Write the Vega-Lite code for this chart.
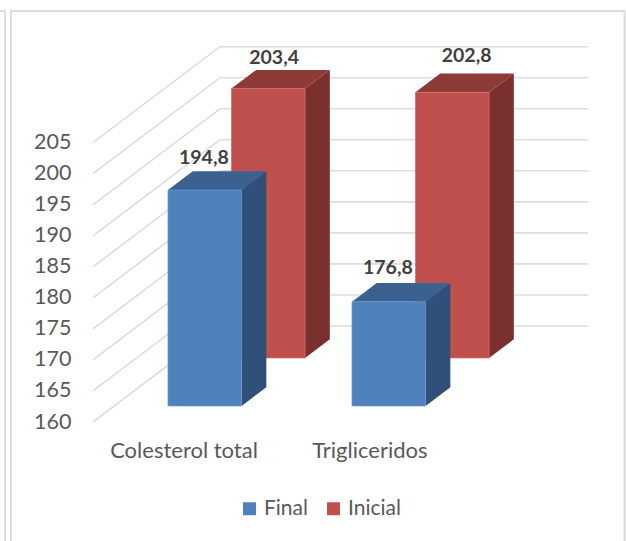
{
  "$schema": "https://vega.github.io/schema/vega-lite/v6.json",
  "width": 626,
  "height": 541,
  "padding": 0,
  "autosize": "none",
  "background": "white",
  "view": {"stroke": null},
  "config": {"text": {"font": "Lato"}},
  "data": {"values": [
    {"categoria": "Colesterol total", "serie": "Final", "valor": 194.8},
    {"categoria": "Colesterol total", "serie": "Inicial", "valor": 203.4},
    {"categoria": "Trigliceridos", "serie": "Final", "valor": 176.8},
    {"categoria": "Trigliceridos", "serie": "Inicial", "valor": 202.8}
  ]},
  "transform": [
    {"calculate": "(datum.categoria === 'Trigliceridos' ? 1 : 0) + 0.4925", "as": "centro"},
    {"calculate": "datum.centro - 0.2", "as": "u0"},
    {"calculate": "datum.centro + 0.2", "as": "u1"},
    {"calculate": "datum.serie === 'Final' ? 0.1667 : 0.6667", "as": "d0"},
    {"calculate": "datum.d0 + 0.195", "as": "d1"},
    {"calculate": "[0, 1]", "as": "lado"},
    {"calculate": "[0, 1, 2, 3]", "as": "tapa"}
  ],
  "encoding": {
    "x": {"field": "x", "type": "quantitative", "axis": null, "scale": {"domain": [-0.5054, 2.8967], "nice": false, "zero": false}},
    "y": {"field": "y", "type": "quantitative", "scale": {"domain": [140.83, 227.99], "nice": false, "zero": false},
      "axis": {"title": null, "values": [160, 165, 170, 175, 180, 185, 190, 195, 200, 205], "offset": -73, "domain": false, "ticks": false, "grid": false, "labelPadding": 2, "labelFont": "Lato", "labelFontSize": 21.5, "labelColor": "#595959"}}
  },
  "layer": [
    {
      "data": {"values": [{"a": 1}]},
      "transform": [
        {"calculate": "-0.62", "as": "x"}, {"calculate": "-0.478", "as": "x2"},
        {"calculate": "226.2", "as": "y"}, {"calculate": "130", "as": "y2"}
      ],
      "mark": {"type": "rect", "fill": null, "stroke": "#dcdcdc", "strokeWidth": 2, "clip": false},
      "encoding": {"x2": {"field": "x2"}, "y2": {"field": "y2"}}
    },
    {
      "data": {"values": [{"a": 1}]},
      "transform": [
        {"calculate": "-0.4457", "as": "x"}, {"calculate": "2.889", "as": "x2"},
        {"calculate": "226.2", "as": "y"}, {"calculate": "130", "as": "y2"}
      ],
      "mark": {"type": "rect", "fill": null, "stroke": "#dcdcdc", "strokeWidth": 2, "clip": false},
      "encoding": {"x2": {"field": "x2"}, "y2": {"field": "y2"}}
    },
    {
      "data": {"values": [
        {"marca": 160}, {"marca": 165}, {"marca": 170}, {"marca": 175}, {"marca": 180},
        {"marca": 185}, {"marca": 190}, {"marca": 195}, {"marca": 200}, {"marca": 205}
      ]},
      "transform": [
        {"calculate": "[0, 1, 2]", "as": "k"},
        {"flatten": ["k"]},
        {"calculate": "datum.k === 2 ? 2.69 : datum.k * 0.69", "as": "x"},
        {"calculate": "datum.marca + (datum.k === 0 ? 0 : 15.47)", "as": "y"}
      ],
      "mark": {"type": "line", "color": "#dddddd", "strokeWidth": 1.6},
      "encoding": {"detail": {"field": "marca"}, "order": {"field": "k"}}
    },
    {
      "transform": [
        {"filter": "datum.serie === 'Inicial'"},
        {"flatten": ["lado"]},
        {"calculate": "datum.d0 + datum.lado * 0.195", "as": "d"},
        {"calculate": "datum.u1 + 0.69 * datum.d", "as": "x"},
        {"calculate": "160 + 15.47 * datum.d", "as": "y"},
        {"calculate": "datum.valor + 15.47 * datum.d", "as": "y2"}
      ],
      "mark": {"type": "area", "fill": "#7a302e"},
      "encoding": {"y2": {"field": "y2"}, "detail": {"field": "categoria"}}
    },
    {
      "transform": [
        {"filter": "datum.serie === 'Inicial'"},
        {"flatten": ["tapa"]},
        {"calculate": "(datum.tapa < 2 ? datum.u0 : datum.u1) + 0.69 * (datum.tapa % 2 === 0 ? datum.d0 : datum.d1)", "as": "x"},
        {"calculate": "datum.valor + 15.47 * (datum.tapa === 3 ? datum.d1 : datum.d0)", "as": "y"},
        {"calculate": "datum.valor + 15.47 * (datum.tapa === 0 ? datum.d0 : datum.d1)", "as": "y2"}
      ],
      "mark": {"type": "area", "fill": "#8e3a37"},
      "encoding": {"y2": {"field": "y2"}, "detail": {"field": "categoria"}}
    },
    {
      "transform": [
        {"filter": "datum.serie === 'Inicial'"},
        {"calculate": "datum.u0 + 0.69 * datum.d0", "as": "x"},
        {"calculate": "datum.u1 + 0.69 * datum.d0", "as": "x2"},
        {"calculate": "160 + 15.47 * datum.d0", "as": "y"},
        {"calculate": "datum.valor + 15.47 * datum.d0", "as": "y2"}
      ],
      "mark": {"type": "rect", "stroke": "#cf6a66", "strokeWidth": 0.7},
      "encoding": {
        "x2": {"field": "x2"}, "y2": {"field": "y2"},
        "color": {"field": "serie", "type": "nominal",
          "scale": {"domain": ["Final", "Inicial"], "range": ["#4f81bd", "#c0504d"]},
          "legend": {"title": null, "orient": "none", "legendX": 239, "legendY": 498, "direction": "horizontal", "symbolType": "square", "symbolSize": 169, "symbolStrokeWidth": 0, "labelFont": "Lato", "labelFontSize": 21, "labelColor": "#595959", "labelOffset": 4, "columnPadding": 15}}
      }
    },
    {
      "transform": [
        {"filter": "datum.serie === 'Final'"},
        {"flatten": ["lado"]},
        {"calculate": "datum.d0 + datum.lado * 0.195", "as": "d"},
        {"calculate": "datum.u1 + 0.69 * datum.d", "as": "x"},
        {"calculate": "160 + 15.47 * datum.d", "as": "y"},
        {"calculate": "datum.valor + 15.47 * datum.d", "as": "y2"}
      ],
      "mark": {"type": "area", "fill": "#2f5078"},
      "encoding": {"y2": {"field": "y2"}, "detail": {"field": "categoria"}}
    },
    {
      "transform": [
        {"filter": "datum.serie === 'Final'"},
        {"flatten": ["tapa"]},
        {"calculate": "(datum.tapa < 2 ? datum.u0 : datum.u1) + 0.69 * (datum.tapa % 2 === 0 ? datum.d0 : datum.d1)", "as": "x"},
        {"calculate": "datum.valor + 15.47 * (datum.tapa === 3 ? datum.d1 : datum.d0)", "as": "y"},
        {"calculate": "datum.valor + 15.47 * (datum.tapa === 0 ? datum.d0 : datum.d1)", "as": "y2"}
      ],
      "mark": {"type": "area", "fill": "#3a618f"},
      "encoding": {"y2": {"field": "y2"}, "detail": {"field": "categoria"}}
    },
    {
      "transform": [
        {"filter": "datum.serie === 'Final'"},
        {"calculate": "datum.u0 + 0.69 * datum.d0", "as": "x"},
        {"calculate": "datum.u1 + 0.69 * datum.d0", "as": "x2"},
        {"calculate": "160 + 15.47 * datum.d0", "as": "y"},
        {"calculate": "datum.valor + 15.47 * datum.d0", "as": "y2"}
      ],
      "mark": {"type": "rect", "stroke": "#6d98cc", "strokeWidth": 0.7},
      "encoding": {
        "x2": {"field": "x2"}, "y2": {"field": "y2"},
        "color": {"field": "serie", "type": "nominal"}
      }
    },
    {
      "transform": [
        {"calculate": "datum.centro + 0.69 * datum.d0 + (datum.serie === 'Final' ? -0.005 : (datum.categoria === 'Trigliceridos' ? 0.078 : 0.032))", "as": "x"},
        {"calculate": "datum.valor + 15.47 * datum.d0 + (datum.serie === 'Final' ? (datum.categoria === 'Trigliceridos' ? 5.5 : 5.2) : (datum.categoria === 'Trigliceridos' ? 5.9 : 4.9))", "as": "y"},
        {"calculate": "replace(format(datum.valor, '.1f'), '.', ',')", "as": "etiqueta"}
      ],
      "mark": {"type": "text", "font": "Lato", "fontSize": 19.5, "fontWeight": "bold", "color": "#404040", "baseline": "middle", "align": "center"},
      "encoding": {"text": {"field": "etiqueta", "type": "nominal"}}
    },
    {
      "data": {"values": [
        {"categoria": "Colesterol total", "pos": 0.4946},
        {"categoria": "Trigliceridos", "pos": 1.505}
      ]},
      "transform": [
        {"calculate": "datum.pos", "as": "x"},
        {"calculate": "155.4", "as": "y"}
      ],
      "mark": {"type": "text", "font": "Lato", "fontSize": 22, "color": "#595959", "baseline": "middle", "align": "center"},
      "encoding": {"text": {"field": "categoria"}}
    }
  ]
}
